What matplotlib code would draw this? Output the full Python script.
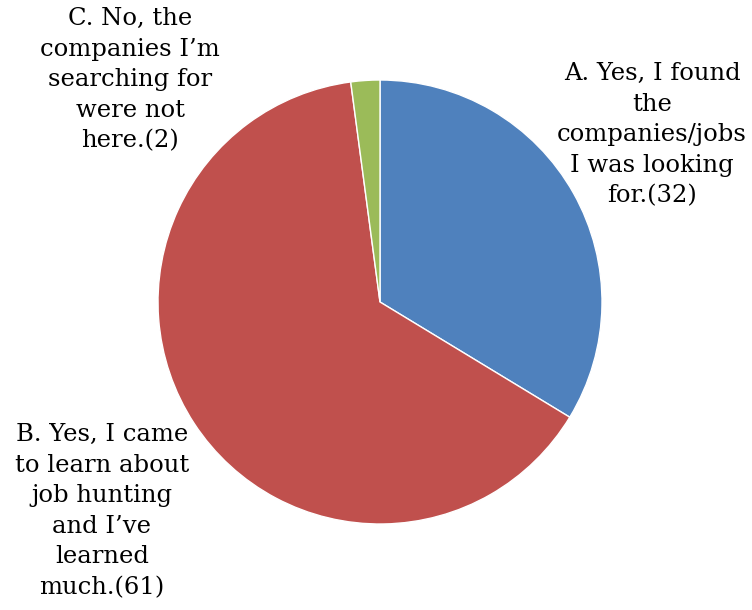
import matplotlib.pyplot as plt

labels = ["A. Yes, I found\nthe\ncompanies/jobs\nI was looking\nfor.(32)",
          "B. Yes, I came\nto learn about\njob hunting\nand I\u2019ve\nlearned\nmuch.(61)",
          "C. No, the\ncompanies I\u2019m\nsearching for\nwere not\nhere.(2)"]
counts = [32, 61, 2]
colors = ["#4F81BD", "#C0504D", "#9BBB59"]

fig = plt.figure(figsize=(7.52, 6.10), dpi=100)
ax = fig.add_axes([0, 0, 1, 1])

ax.pie(counts, colors=colors, startangle=90, counterclock=False,
       center=(380, 308), radius=222, frame=True,
       wedgeprops=dict(edgecolor="white", linewidth=1))
ax.set_xlim(0, 752)
ax.set_ylim(0, 610)
ax.set_aspect("equal")
ax.axis("off")

font = dict(family="DejaVu Serif", fontsize=17.5, ha="center", va="top",
            linespacing=1.42, color="black", multialignment="center")
ax.text(652, 610 - 62, labels[0], **font)
ax.text(102, 610 - 423, labels[1], **font)
ax.text(130, 610 - 7, labels[2], **font)

fig.savefig("out.png", dpi=100)
